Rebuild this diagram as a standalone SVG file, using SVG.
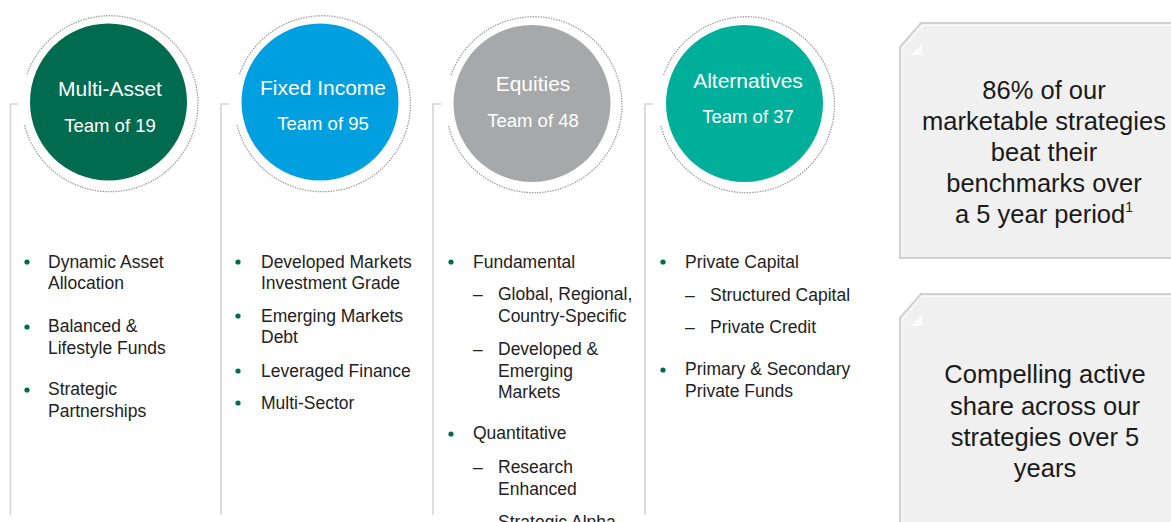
<svg xmlns="http://www.w3.org/2000/svg" width="1171" height="522" viewBox="0 0 1171 522">
<style>
.ring{fill:none;stroke:#9a9a9a;stroke-width:1.3;stroke-dasharray:1.4 1.2}
.ct{font-family:"Liberation Sans",Arial,sans-serif;fill:#fff;text-anchor:middle}
.t1{font-size:21px}
.t2{font-size:18.5px}
.col{stroke:#d4d4d4;stroke-width:1.6;fill:none}
.bt{font-family:"Liberation Sans",Arial,sans-serif;font-size:17.5px;fill:#222}
.dot{fill:#006b4f}
.box{fill:#f0f0f0;stroke:#d2d2d2;stroke-width:2}
.inner{fill:none;stroke:#fafafa;stroke-width:1.2}
.tri{fill:#fbfbfb}
.xt{font-family:"Liberation Sans",Arial,sans-serif;font-size:25.5px;fill:#1a1a1a;text-anchor:middle}
</style>
<rect width="1171" height="522" fill="#fff"/>

<g id="connectors">
  <path class="col" d="M10.5 515V104H18"/>
  <path class="col" d="M221 515V104H229"/>
  <path class="col" d="M433 515V104H441"/>
  <path class="col" d="M645 515V104H653"/>
</g>

<g id="multi-asset">
  <path class="ring" d="M27.1 74 A88 88 0 1 1 24.3 124"/>
  <circle cx="108.5" cy="102" r="78.5" fill="#006b4f"/>
  <text class="ct t1" x="110" y="96">Multi-Asset</text>
  <text class="ct t2" x="110" y="132">Team of 19</text>
</g>

<g id="fixed-income">
  <path class="ring" d="M239.6 74 A88 88 0 1 1 236.8 124"/>
  <circle cx="320" cy="102" r="78.5" fill="#009fdf"/>
  <text class="ct t1" x="323" y="95">Fixed Income</text>
  <text class="ct t2" x="323" y="130">Team of 95</text>
</g>

<g id="equities">
  <path class="ring" d="M451.1 75 A88 88 0 1 1 448.3 125"/>
  <circle cx="532" cy="103.5" r="78.5" fill="#a7a8aa"/>
  <text class="ct t1" x="533" y="91">Equities</text>
  <text class="ct t2" x="533" y="127">Team of 48</text>
</g>

<g id="alternatives">
  <path class="ring" d="M663.6 75 A88 88 0 1 1 660.8 125"/>
  <circle cx="744.5" cy="103.5" r="78.5" fill="#00af9a"/>
  <text class="ct t1" x="748" y="88">Alternatives</text>
  <text class="ct t2" x="748" y="123">Team of 37</text>
</g>

<g id="multi-asset-list">
  <circle class="dot" cx="27" cy="262" r="2.6"/>
  <text class="bt" x="48" y="268">Dynamic Asset</text>
  <text class="bt" x="48" y="289">Allocation</text>
  <circle class="dot" cx="27" cy="327" r="2.6"/>
  <text class="bt" x="48" y="332">Balanced &amp;</text>
  <text class="bt" x="48" y="354">Lifestyle Funds</text>
  <circle class="dot" cx="27" cy="390" r="2.6"/>
  <text class="bt" x="48" y="395">Strategic</text>
  <text class="bt" x="48" y="417">Partnerships</text>
</g>

<g id="fixed-income-list">
  <circle class="dot" cx="238" cy="262" r="2.6"/>
  <text class="bt" x="261" y="268">Developed Markets</text>
  <text class="bt" x="261" y="289">Investment Grade</text>
  <circle class="dot" cx="238" cy="316" r="2.6"/>
  <text class="bt" x="261" y="322">Emerging Markets</text>
  <text class="bt" x="261" y="343">Debt</text>
  <circle class="dot" cx="238" cy="371" r="2.6"/>
  <text class="bt" x="261" y="377">Leveraged Finance</text>
  <circle class="dot" cx="238" cy="403" r="2.6"/>
  <text class="bt" x="261" y="409">Multi-Sector</text>
</g>

<g id="equities-list">
  <circle class="dot" cx="451" cy="262" r="2.6"/>
  <text class="bt" x="473" y="268">Fundamental</text>
  <text class="bt" x="473" y="300">–</text>
  <text class="bt" x="498" y="300">Global, Regional,</text>
  <text class="bt" x="498" y="322">Country-Specific</text>
  <text class="bt" x="473" y="355">–</text>
  <text class="bt" x="498" y="355">Developed &amp;</text>
  <text class="bt" x="498" y="377">Emerging</text>
  <text class="bt" x="498" y="398">Markets</text>
  <circle class="dot" cx="451" cy="434" r="2.6"/>
  <text class="bt" x="473" y="439">Quantitative</text>
  <text class="bt" x="473" y="473">–</text>
  <text class="bt" x="498" y="473">Research</text>
  <text class="bt" x="498" y="495">Enhanced</text>
  <text class="bt" x="498" y="528">Strategic Alpha</text>
</g>

<g id="alternatives-list">
  <circle class="dot" cx="663" cy="262" r="2.6"/>
  <text class="bt" x="685" y="268">Private Capital</text>
  <text class="bt" x="685" y="301">–</text>
  <text class="bt" x="710" y="301">Structured Capital</text>
  <text class="bt" x="685" y="333">–</text>
  <text class="bt" x="710" y="333">Private Credit</text>
  <circle class="dot" cx="663" cy="370" r="2.6"/>
  <text class="bt" x="685" y="375">Primary &amp; Secondary</text>
  <text class="bt" x="685" y="397">Private Funds</text>
</g>

<g id="box-performance">
  <path class="box" d="M900 258V47L921 23H1180V258Z"/>
  <path class="inner" d="M902.5 256V48L922 25.5H1180"/>
  <path class="tri" d="M911 55L922 44V55Z"/>
  <text class="xt" x="1044" y="99">86% of our</text>
  <text class="xt" x="1044" y="130">marketable strategies</text>
  <text class="xt" x="1044" y="161">beat their</text>
  <text class="xt" x="1044" y="192">benchmarks over</text>
  <text class="xt" x="1044" y="223">a 5 year period<tspan font-size="14" dy="-11">1</tspan></text>
</g>

<g id="box-active-share">
  <path class="box" d="M900 530V318L921 294H1180V530Z"/>
  <path class="inner" d="M902.5 530V319L922 296.5H1180"/>
  <path class="tri" d="M911 326L922 315V326Z"/>
  <text class="xt" x="1045" y="383">Compelling active</text>
  <text class="xt" x="1045" y="415">share across our</text>
  <text class="xt" x="1045" y="446">strategies over 5</text>
  <text class="xt" x="1045" y="477">years</text>
</g>
</svg>
